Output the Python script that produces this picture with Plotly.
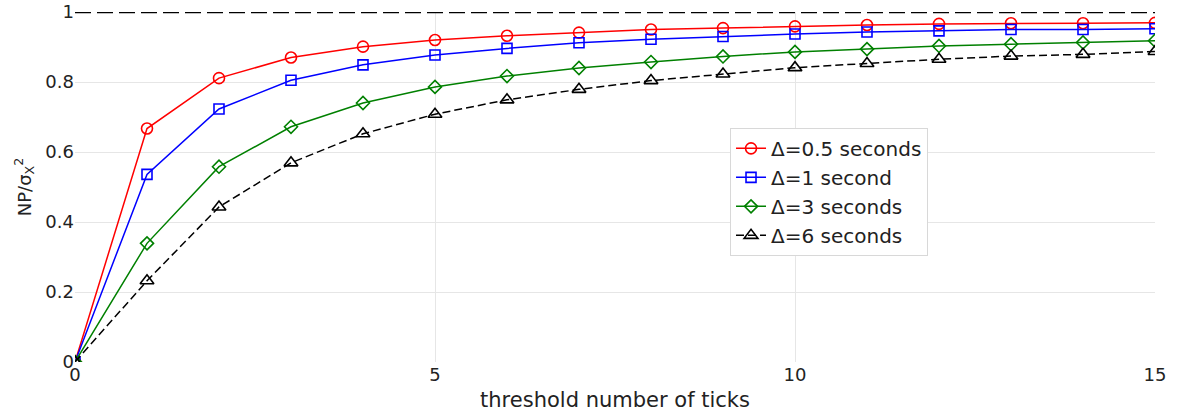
import plotly.graph_objects as go

x_vals = list(range(0, 16))
series_names = ["Δ=0.5 seconds", "Δ=1 second", "Δ=3 seconds", "Δ=6 seconds"]
red_vals = [0, 0.667, 0.811, 0.870, 0.901, 0.920, 0.932, 0.941, 0.950, 0.954, 0.959, 0.963, 0.966, 0.968, 0.968, 0.969]
blue_vals = [0, 0.536, 0.723, 0.805, 0.849, 0.877, 0.896, 0.912, 0.922, 0.930, 0.937, 0.943, 0.946, 0.950, 0.950, 0.952]
green_vals = [0, 0.339, 0.558, 0.672, 0.740, 0.786, 0.817, 0.840, 0.857, 0.873, 0.886, 0.894, 0.903, 0.908, 0.913, 0.918]
black_vals = [0, 0.232, 0.443, 0.569, 0.652, 0.708, 0.749, 0.779, 0.804, 0.823, 0.841, 0.853, 0.865, 0.874, 0.879, 0.887]
ref_x = [0, 15]
ref_y = [1, 1]
y_tickvals = [0, 0.2, 0.4, 0.6, 0.8, 1]
y_ticktext = ["0", "0.2", "0.4", "0.6", "0.8", "1"]
x_tickvals = [0, 5, 10, 15]
x_ticktext = ["0", "5", "10", "15"]

FONT = "DejaVu Sans"
fig = go.Figure()
fig.add_trace(go.Scatter(x=ref_x, y=ref_y, mode="lines", showlegend=False, cliponaxis=False,
                         line=dict(color="black", width=2.5, dash="16px,6px"), hoverinfo="skip"))

styles = [
    (red_vals, "red", "circle-open", 11, "solid"),
    (blue_vals, "blue", "square-open", 10, "solid"),
    (green_vals, "green", "diamond-open", 10, "solid"),
    (black_vals, "black", "triangle-up-open", 12, "8px,4px"),
]
for name, (vals, col, sym, sz, dash) in zip(series_names, styles):
    fig.add_trace(go.Scatter(x=x_vals, y=vals, mode="lines+markers", name=name,
                             line=dict(color=col, width=1.5, dash=dash),
                             marker=dict(symbol=sym, size=sz, color=col, line=dict(width=1.6, color=col))))

fig.update_layout(
    width=1181, height=415,
    margin=dict(l=75, r=26, t=12, b=53, autoexpand=False),
    plot_bgcolor="white", paper_bgcolor="white",
    font=dict(family=FONT, size=18, color="#222"),
    legend=dict(x=0.6065, y=0.669, xanchor="left", yanchor="top",
                bgcolor="white", bordercolor="#d8d8d8", borderwidth=1,
                font=dict(family=FONT, size=20, color="#222"), tracegroupgap=0),
    xaxis=dict(range=[0, 15], tickmode="array", tickvals=x_tickvals, ticktext=x_ticktext,
               showgrid=True, gridcolor="#e6e6e6", ticklabeloverflow="allow",
               zeroline=False, showline=False, ticks="", automargin=False,
               tickfont=dict(size=18),
               title=dict(text="threshold number of ticks", font=dict(size=21), standoff=8)),
    yaxis=dict(range=[0, 1], tickmode="array", tickvals=y_tickvals, ticktext=y_ticktext,
               showgrid=True, gridcolor="#e6e6e6", ticklabeloverflow="allow",
               zeroline=False, showline=False, ticks="", automargin=False,
               tickfont=dict(size=18),
               title=dict(text="NP/σ<sub>X</sub><sup>2</sup>", font=dict(size=18), standoff=9)),
)
fig.write_html("out.html", config={"displayModeBar": False},
               post_script="document.body.style.margin='0';")
